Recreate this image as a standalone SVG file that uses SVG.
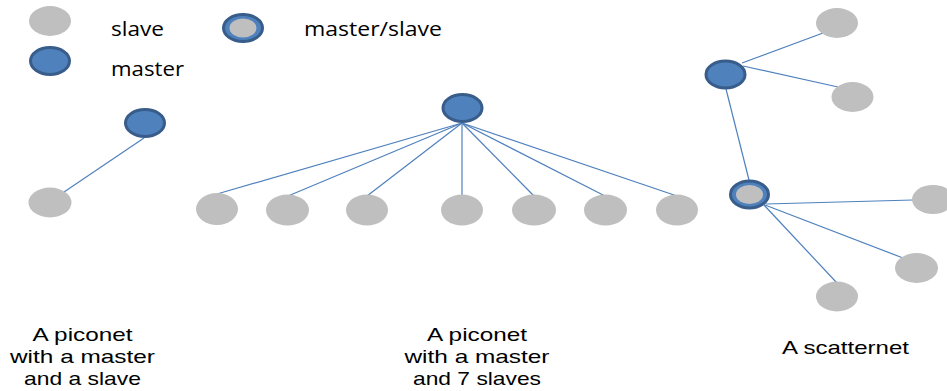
<svg xmlns="http://www.w3.org/2000/svg" width="947" height="391" viewBox="0 0 947 391">
<style>
.slave{fill:#BFBFBF;}
.master{fill:#4F81BD;stroke:#385D8A;stroke-width:3;}
.inner{fill:#BFBFBF;}
.edge{stroke:#4F81BD;stroke-width:1.2;fill:none;}
.t{font-family:"Open Sans","Liberation Sans",sans-serif;font-size:20px;fill:#000;}
.b{font-family:"Liberation Sans","Open Sans",sans-serif;font-size:19px;}
.c{text-anchor:middle;}
</style>
<rect width="947" height="391" fill="#fff"/>
<g id="connectors">
<line class="edge" x1="144" y1="138" x2="64" y2="192"/>
<line class="edge" x1="462" y1="123" x2="217" y2="194"/>
<line class="edge" x1="462" y1="123" x2="288" y2="196"/>
<line class="edge" x1="462" y1="123" x2="367" y2="196"/>
<line class="edge" x1="462" y1="123" x2="462" y2="196"/>
<line class="edge" x1="462" y1="123" x2="534" y2="196"/>
<line class="edge" x1="462" y1="123" x2="605" y2="196"/>
<line class="edge" x1="462" y1="123" x2="677" y2="196"/>
<line class="edge" x1="742" y1="63" x2="823" y2="33"/>
<line class="edge" x1="743" y1="66" x2="838" y2="87"/>
<line class="edge" x1="726" y1="89" x2="749" y2="180"/>
<line class="edge" x1="766" y1="204" x2="913" y2="200"/>
<line class="edge" x1="765" y1="205" x2="903" y2="258"/>
<line class="edge" x1="764" y1="205" x2="837" y2="283"/>
</g>
<g id="legend">
<g id="legend-slave"><ellipse class="slave" cx="50" cy="21" rx="21" ry="15"/><text class="t" x="111" y="36" textLength="53" lengthAdjust="spacingAndGlyphs">slave</text></g>
<g id="legend-masterslave"><ellipse class="master" cx="243" cy="28" rx="19.5" ry="13.5"/><ellipse class="inner" cx="243" cy="28" rx="13.5" ry="9.5"/><text class="t" x="304" y="36" textLength="138" lengthAdjust="spacingAndGlyphs">master/slave</text></g>
<g id="legend-master"><ellipse class="master" cx="50" cy="61" rx="19.5" ry="13.5"/><text class="t" x="111" y="76" textLength="73" lengthAdjust="spacingAndGlyphs">master</text></g>
</g>
<g id="p1-master"><ellipse class="master" cx="145" cy="123" rx="19.5" ry="13.5"/></g>
<g id="p1-slave"><ellipse class="slave" cx="50" cy="202.5" rx="21.5" ry="15"/></g>
<g id="p2-master"><ellipse class="master" cx="462.5" cy="108" rx="19.5" ry="13.5"/></g>
<g id="p2-s1"><ellipse class="slave" cx="217" cy="209" rx="21" ry="16"/></g>
<g id="p2-s2"><ellipse class="slave" cx="287.5" cy="210" rx="21.5" ry="15.5"/></g>
<g id="p2-s3"><ellipse class="slave" cx="367" cy="210" rx="21" ry="15.5"/></g>
<g id="p2-s4"><ellipse class="slave" cx="462" cy="210" rx="21" ry="15.5"/></g>
<g id="p2-s5"><ellipse class="slave" cx="534" cy="210" rx="22" ry="15.5"/></g>
<g id="p2-s6"><ellipse class="slave" cx="605.5" cy="210" rx="21.5" ry="15.5"/></g>
<g id="p2-s7"><ellipse class="slave" cx="677" cy="210" rx="21" ry="15.5"/></g>
<g id="s-master"><ellipse class="master" cx="725.5" cy="74.5" rx="19.5" ry="13.5"/></g>
<g id="s-top"><ellipse class="slave" cx="837" cy="23" rx="21" ry="15"/></g>
<g id="s-right"><ellipse class="slave" cx="852.5" cy="97" rx="21" ry="15"/></g>
<g id="s-masterslave"><ellipse class="master" cx="749.5" cy="194.5" rx="19" ry="13.5"/><ellipse class="inner" cx="749.5" cy="194.5" rx="13.5" ry="9.5"/></g>
<g id="s-s1"><ellipse class="slave" cx="933" cy="199.5" rx="21" ry="14.5"/></g>
<g id="s-s2"><ellipse class="slave" cx="916.5" cy="268" rx="21.5" ry="15"/></g>
<g id="s-s3"><ellipse class="slave" cx="837" cy="296.5" rx="21" ry="15"/></g>
<g id="labels">
<text class="t b c" x="82.5" y="341" textLength="100" lengthAdjust="spacingAndGlyphs">A piconet</text>
<text class="t b c" x="82.5" y="363" textLength="145" lengthAdjust="spacingAndGlyphs">with a master</text>
<text class="t b c" x="82.5" y="385" textLength="117" lengthAdjust="spacingAndGlyphs">and a slave</text>
<text class="t b c" x="477" y="341" textLength="100" lengthAdjust="spacingAndGlyphs">A piconet</text>
<text class="t b c" x="477" y="363" textLength="145" lengthAdjust="spacingAndGlyphs">with a master</text>
<text class="t b c" x="477" y="385" textLength="128" lengthAdjust="spacingAndGlyphs">and 7 slaves</text>
<text class="t b c" x="845.5" y="354" textLength="127" lengthAdjust="spacingAndGlyphs">A scatternet</text>
</g>
</svg>
